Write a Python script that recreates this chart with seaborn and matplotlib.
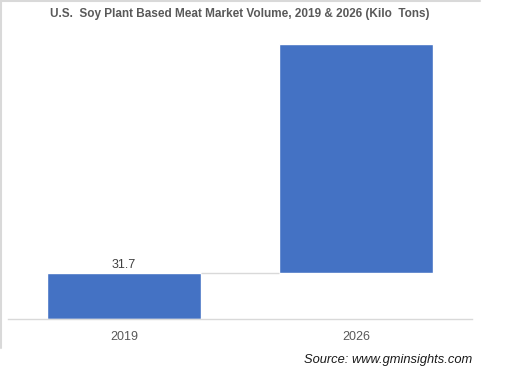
import matplotlib
matplotlib.use("Agg")
import matplotlib.pyplot as plt
from matplotlib.lines import Line2D
import seaborn as sns
import numpy as np

# chart data
years = ["2019", "2026"]
volume = [31.7, 189.5]          # kilo tons (2026)
bar_labels = ["31.7", ""]

title = "U.S.  Soy Plant Based Meat Market Volume, 2019 & 2026 (Kilo  Tons)"
source = "Source: www.gminsights.com"

# floating bars: the 2026 bar starts where 2019 ends
base = [0.0] + volume[:-1]
height = list(np.array(volume) - np.array(base))

sns.set_theme(style="white")
plt.rcParams["font.family"] = ["Liberation Sans", "DejaVu Sans"]

W, H = 505, 373
fig = plt.figure(figsize=(W / 100, H / 100), dpi=100)
fig.patch.set_facecolor("white")

# axes in pixel terms: x 8..472, y 30..319 (from top)
ax_top, ax_bot = 30, 319
ax = fig.add_axes([8 / W, (H - ax_bot) / H, 464 / W, (ax_bot - ax_top) / H])

bar_w = 0.66
sns.barplot(x=years, y=height, bottom=base, color="#4472C4", width=bar_w,
            saturation=1, ax=ax)

# keep 2026 top at the reference position
top_px = 44
ax.set_ylim(0, max(volume) * (ax_bot - ax_top) / (ax_bot - top_px))
ax.set_xlim(-0.5, len(years) - 0.5)

# connector between bars
ax.hlines(volume[0], 0 + bar_w / 2, 1 - bar_w / 2, color="#d9d9d9", lw=1)

for i, lab in enumerate(bar_labels):
    if lab:
        ax.text(i, volume[i] + 1.5, lab, ha="center", va="bottom",
                fontsize=9, color="#404040")

sns.despine(ax=ax, left=True)
ax.spines["bottom"].set_color("#d9d9d9")
ax.spines["bottom"].set_linewidth(1)
ax.set_yticks([])
ax.set_xlabel("")
ax.set_ylabel("")
ax.tick_params(axis="x", length=0, pad=9, labelsize=9, labelcolor="#595959")

fig.text(240 / W, 1 - 14 / H, title, ha="center", va="center",
         fontsize=8.5, fontweight="bold", color="#595959")
fig.text(472 / W, 1 - 360 / H, source, ha="right", va="center",
         fontsize=9.3, style="italic", color="#1a1a1a")

# chart-area border remnants (top and left)
fig.add_artist(Line2D([0.5 / W, 0.5 / W], [1, 1 - 348 / H], color="#d9d9d9", lw=1.5,
                      transform=fig.transFigure))
fig.add_artist(Line2D([0, 480 / W], [1 - 0.5 / H, 1 - 0.5 / H], color="#d9d9d9", lw=1.5,
                      transform=fig.transFigure))

fig.savefig("out.png", dpi=100)
